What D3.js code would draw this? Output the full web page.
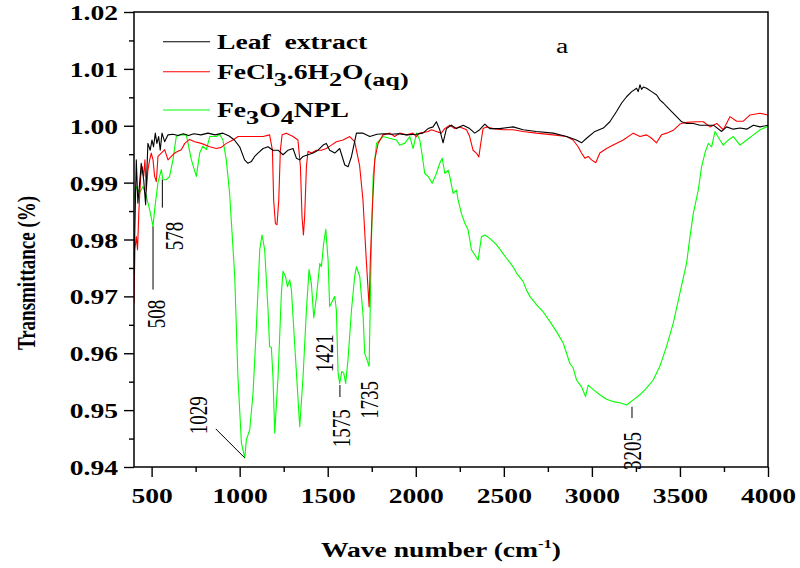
<!DOCTYPE html>
<html><head><meta charset="utf-8">
<script src="https://cdn.jsdelivr.net/npm/d3@7/dist/d3.min.js"></script>
<style>
html,body{margin:0;padding:0;background:#fff;}
text{font-family:"Liberation Serif","Times New Roman",serif;}
</style></head>
<body>
<svg id="chart" width="800" height="568"></svg>
<script>
// ---------------- DATA ----------------
const leafWn = [400,405,413,422,432,441,455,466,479,492,502,511,521,530,540,549,559,574,593,621,650,680,710,740,780,820,860,905,940,970,1000,1028,1047,1066,1085,1104,1133,1161,1189,1218,1246,1275,1303,1322,1341,1360,1388,1417,1445,1474,1492,1511,1540,1568,1597,1616,1635,1663,1701,1739,1780,1820,1860,1900,1950,2000,2040,2070,2098,2117,2136,2155,2174,2202,2231,2269,2306,2335,2363,2392,2420,2477,2553,2609,2685,2780,2856,2912,2941,2970,3017,3065,3102,3140,3169,3197,3226,3254,3263,3273,3282,3292,3311,3339,3368,3387,3406,3424,3453,3481,3510,3538,3576,3614,3652,3690,3737,3765,3803,3841,3879,3917,3955,4000];
const leafT = [0.9740,0.9823,0.9940,0.9864,0.9899,0.9934,0.9905,0.9861,0.9969,0.9957,0.9975,0.9963,0.9987,0.9969,0.9981,0.9957,0.9987,0.9972,0.9984,0.9985,0.9983,0.9986,0.9983,0.9986,0.9984,0.9987,0.9984,0.9987,0.9982,0.9975,0.9963,0.9940,0.9934,0.9937,0.9946,0.9952,0.9960,0.9963,0.9957,0.9957,0.9949,0.9957,0.9960,0.9943,0.9940,0.9946,0.9949,0.9952,0.9957,0.9966,0.9969,0.9957,0.9952,0.9960,0.9931,0.9928,0.9946,0.9987,0.9987,0.9981,0.9985,0.9986,0.9985,0.9986,0.9984,0.9985,0.9987,0.9995,0.9998,1.0007,0.9993,0.9970,0.9995,1.0001,0.9995,1.0001,0.9995,0.9987,0.9993,1.0003,0.9995,0.9995,0.9998,0.9993,0.9990,0.9987,0.9981,0.9975,0.9970,0.9978,0.9990,0.9996,1.0007,1.0025,1.0040,1.0051,1.0060,1.0066,1.0060,1.0072,1.0064,1.0068,1.0066,1.0060,1.0054,1.0045,1.0040,1.0034,1.0025,1.0016,1.0007,1.0004,1.0004,1.0001,1.0001,1.0001,0.9990,0.9998,0.9994,0.9996,0.9994,1.0001,0.9998,1.0001];

const fecl3Wn = [400,405,413,420,428,438,447,455,462,470,479,489,498,508,517,527,536,555,574,593,612,631,650,669,688,716,744,782,830,867,896,924,962,991,1038,1133,1170,1186,1193,1203,1212,1222,1231,1241,1265,1303,1331,1345,1354,1362,1369,1379,1388,1407,1436,1464,1492,1521,1549,1587,1625,1653,1681,1700,1719,1735,1742,1753,1767,1786,1814,1852,1880,1909,1947,1984,2003,2022,2070,2089,2117,2145,2164,2193,2221,2250,2288,2306,2325,2344,2358,2369,2382,2401,2439,2496,2553,2609,2685,2780,2856,2893,2922,2941,2960,2979,2998,3022,3045,3083,3121,3178,3235,3273,3311,3339,3367,3395,3424,3462,3500,3538,3594,3633,3671,3709,3746,3784,3822,3860,3898,3955,4000];
const fecl3T = [0.9688,0.9782,0.9805,0.9782,0.9852,0.9911,0.9928,0.9911,0.9940,0.9887,0.9922,0.9940,0.9952,0.9940,0.9911,0.9902,0.9946,0.9952,0.9958,0.9940,0.9946,0.9952,0.9955,0.9958,0.9969,0.9976,0.9972,0.9969,0.9963,0.9960,0.9962,0.9969,0.9975,0.9981,0.9981,0.9981,0.9984,0.9957,0.9869,0.9828,0.9826,0.9869,0.9957,0.9984,0.9987,0.9981,0.9975,0.9928,0.9840,0.9808,0.9840,0.9928,0.9955,0.9952,0.9957,0.9957,0.9960,0.9966,0.9972,0.9975,0.9981,0.9972,0.9930,0.9870,0.9764,0.9682,0.9764,0.9852,0.9940,0.9969,0.9984,0.9987,0.9981,0.9987,0.9984,0.9987,0.9981,0.9987,0.9990,0.9993,0.9990,0.9987,0.9995,1.0001,0.9995,0.9998,0.9993,0.9981,0.9957,0.9952,0.9945,0.9969,0.9995,0.9998,0.9995,0.9993,0.9993,0.9990,0.9987,0.9984,0.9981,0.9975,0.9963,0.9952,0.9943,0.9946,0.9940,0.9935,0.9952,0.9960,0.9966,0.9975,0.9987,0.9981,0.9984,0.9978,0.9970,0.9984,0.9987,0.9992,1.0003,1.0006,1.0007,1.0007,0.9998,1.0004,0.9993,1.0016,1.0008,1.0008,1.0019,1.0022,1.0019];

const npWn = [400,413,432,451,470,489,508,517,536,555,564,583,602,621,640,659,697,726,754,773,791,811,830,868,886,905,924,943,972,990,1010,1029,1038,1057,1076,1095,1114,1127,1142,1161,1170,1180,1189,1199,1218,1237,1246,1260,1271,1284,1294,1312,1341,1360,1379,1394,1407,1421,1436,1455,1464,1477,1489,1502,1511,1530,1540,1549,1559,1568,1580,1591,1602,1615,1635,1653,1663,1682,1701,1710,1720,1735,1748,1758,1777,1814,1850,1890,1909,1937,1966,1985,2004,2023,2032,2051,2070,2093,2117,2136,2150,2165,2184,2193,2212,2231,2240,2259,2278,2297,2316,2354,2373,2392,2420,2458,2515,2553,2572,2610,2629,2648,2686,2723,2761,2799,2837,2856,2875,2894,2913,2941,2964,2979,3008,3045,3083,3121,3159,3197,3235,3273,3311,3348,3386,3424,3462,3500,3538,3557,3576,3604,3623,3642,3661,3680,3699,3727,3746,3775,3803,3841,3879,3917,3955,4000];
const npT = [0.9870,0.9893,0.9882,0.9893,0.9876,0.9852,0.9823,0.9852,0.9900,0.9923,0.9905,0.9905,0.9911,0.9940,0.9981,0.9984,0.9984,0.9940,0.9911,0.9952,0.9964,0.9958,0.9981,0.9981,0.9985,0.9975,0.9940,0.9881,0.9735,0.9559,0.9442,0.9416,0.9448,0.9465,0.9530,0.9647,0.9782,0.9808,0.9782,0.9676,0.9612,0.9610,0.9559,0.9460,0.9559,0.9706,0.9744,0.9735,0.9717,0.9729,0.9711,0.9618,0.9471,0.9559,0.9676,0.9747,0.9723,0.9662,0.9700,0.9758,0.9752,0.9793,0.9818,0.9764,0.9682,0.9694,0.9700,0.9676,0.9565,0.9547,0.9568,0.9565,0.9547,0.9588,0.9676,0.9735,0.9752,0.9735,0.9665,0.9600,0.9591,0.9577,0.9793,0.9911,0.9969,0.9981,0.9978,0.9975,0.9966,0.9969,0.9981,0.9960,0.9987,0.9975,0.9957,0.9916,0.9911,0.9899,0.9916,0.9934,0.9943,0.9916,0.9922,0.9911,0.9881,0.9887,0.9870,0.9846,0.9829,0.9817,0.9782,0.9764,0.9805,0.9808,0.9802,0.9791,0.9767,0.9752,0.9741,0.9726,0.9711,0.9700,0.9685,0.9673,0.9656,0.9638,0.9618,0.9600,0.9582,0.9574,0.9553,0.9541,0.9524,0.9544,0.9536,0.9527,0.9519,0.9515,0.9513,0.9509,0.9518,0.9527,0.9539,0.9553,0.9577,0.9612,0.9653,0.9706,0.9759,0.9805,0.9846,0.9887,0.9928,0.9952,0.9969,0.9963,0.9990,0.9975,0.9966,0.9975,0.9981,0.9966,0.9975,0.9984,0.9993,0.9999];

const seriesNames = ["Leaf  extract", "FeCl3.6H2O(aq)", "Fe3O4NPL"];
const xMajorTicks = [500,1000,1500,2000,2500,3000,3500,4000];
const xMinorTicks = [750,1250,1750,2250,2750,3250,3750];
const yMajorTicks = [0.94,0.95,0.96,0.97,0.98,0.99,1.00,1.01,1.02];
const yMinorTicks = [0.945,0.955,0.965,0.975,0.985,0.995,1.005,1.015];
const peakLabels = [508,578,1029,1421,1575,1735,3205];

// ---------------- CHART ----------------
const SX = 1.38; // horizontal stretch of the original image's text
const svg = d3.select("#chart");
const x = d3.scaleLinear().domain([400,4000]).range([134,768]);
const y = d3.scaleLinear().domain([0.94,1.02]).range([467,12]);

const series = [
  {name: seriesNames[0], wn: leafWn, t: leafT, color: "#000000"},
  {name: seriesNames[1], wn: fecl3Wn, t: fecl3T, color: "#ff0000"},
  {name: seriesNames[2], wn: npWn, t: npT, color: "#00ff00"}
];

svg.append("clipPath").attr("id","clip").append("rect")
  .attr("x",134).attr("y",12).attr("width",634).attr("height",455);

const line = d3.line().x(d => x(d[0])).y(d => y(d[1]));
const plot = svg.append("g").attr("clip-path","url(#clip)");
[2,1,0].forEach(i => {
  const s = series[i];
  plot.append("path")
    .datum(s.wn.map((w,k) => [w, s.t[k]]))
    .attr("d", line)
    .attr("fill","none")
    .attr("stroke", s.color)
    .attr("stroke-width", 1.1)
    .attr("stroke-linejoin","round");
});

// frame
svg.append("rect").attr("x",x(400)).attr("y",y(1.02))
  .attr("width", x(4000)-x(400)).attr("height", y(0.94)-y(1.02))
  .attr("fill","none").attr("stroke","#000").attr("stroke-width",1.5);

// axes
const gx = svg.append("g").attr("transform",`translate(0,${y(0.94)})`);
gx.call(d3.axisBottom(x).tickValues(xMajorTicks).tickSize(10).tickFormat(d3.format("d")));
const gxm = svg.append("g").attr("transform",`translate(0,${y(0.94)})`);
gxm.call(d3.axisBottom(x).tickValues(xMinorTicks).tickSize(5).tickFormat(""));
const gy = svg.append("g").attr("transform",`translate(${x(400)},0)`);
gy.call(d3.axisLeft(y).tickValues(yMajorTicks).tickSize(10).tickFormat(d3.format(".2f")));
const gym = svg.append("g").attr("transform",`translate(${x(400)},0)`);
gym.call(d3.axisLeft(y).tickValues(yMinorTicks).tickSize(5).tickFormat(""));
[gx,gxm,gy,gym].forEach(g => {
  g.select(".domain").remove();
  g.selectAll("line").attr("stroke","#000").attr("stroke-width",1.4);
});
gx.selectAll("text")
  .attr("y", 22).attr("dy","0.71em")
  .attr("transform", `scale(${SX},1)`)
  .style("font-family",'"Liberation Serif","Times New Roman",serif')
  .style("font-weight","bold").style("font-size","20px").attr("fill","#000");
gy.selectAll("text")
  .attr("x", -16/SX).attr("dy","0.38em")
  .attr("transform", `scale(${SX},1)`)
  .style("font-family",'"Liberation Serif","Times New Roman",serif')
  .style("font-weight","bold").style("font-size","20px").attr("fill","#000");

// axis titles
const xt = svg.append("text")
  .attr("transform", `translate(441,557) scale(${SX},1)`)
  .attr("text-anchor","middle")
  .style("font-weight","bold").style("font-size","20px");
xt.append("tspan").text("Wave number (cm");
xt.append("tspan").attr("dy",-9).style("font-size","12px").text("-1");
xt.append("tspan").attr("dy",9).text(")");

svg.append("text")
  .attr("transform", `translate(35,273) scale(${SX},1) rotate(-90)`)
  .attr("text-anchor","middle")
  .style("font-weight","bold").style("font-size","19px")
  .text("Transmittance (%)");

// "a" label
svg.append("text").attr("transform",`translate(562,53) scale(${SX},1)`)
  .attr("text-anchor","middle").style("font-size","20px").text("a");

// legend
const legendParts = [
  [["Leaf  extract",0]],
  [["FeCl",0],["3",1],[".6H",0],["2",1],["O",0],["(aq)",1]],
  [["Fe",0],["3",1],["O",0],["4",1],["NPL",0]]
];
const legendY = [41.7, 71.7, 110];
series.forEach((s,i) => {
  svg.append("line").attr("x1",163).attr("x2",210)
    .attr("y1",legendY[i]).attr("y2",legendY[i])
    .attr("stroke", s.color).attr("stroke-width",1.1);
  const t = svg.append("text")
    .attr("transform",`translate(217,${legendY[i]+6.8}) scale(${SX},1)`)
    .style("font-weight","bold").style("font-size","20px")
    .style("white-space","pre").attr("xml:space","preserve");
  let sub = 0;
  legendParts[i].forEach(([txt,isSub]) => {
    const ts = t.append("tspan").text(txt);
    const dy = (isSub ? 7 : 0) - sub;
    if (dy !== 0) ts.attr("dy", dy);
    if (isSub) ts.style("font-size","19px");
    sub = isSub ? 7 : 0;
  });
});

// peak annotations
const ann = svg.append("g");
function vlabel(txt, px, py) {
  ann.append("text")
    .attr("transform", `translate(${px},${py}) scale(${SX},1) rotate(-90)`)
    .attr("text-anchor","middle").style("font-size","19px").text(txt);
}
function seg(x1,y1,x2,y2) {
  ann.append("line").attr("x1",x1).attr("y1",y1).attr("x2",x2).attr("y2",y2)
    .attr("stroke","#000").attr("stroke-width",1);
}
// 508
seg(x(peakLabels[0]), y(0.9823), x(peakLabels[0]), y(0.9712));
vlabel(String(peakLabels[0]), x(peakLabels[0]) + 12, y(0.9669));
// 578
seg(x(peakLabels[1]) - 3, y(0.9905), x(peakLabels[1]) - 3, y(0.9856));
vlabel(String(peakLabels[1]), x(peakLabels[1]) + 17.7, y(0.9806));
// 1029
seg(x(peakLabels[2]) - 29, y(0.9416) - 29, x(peakLabels[2]), y(0.9416));
vlabel(String(peakLabels[2]), x(peakLabels[2]) - 38, y(0.9491));
// 1421
vlabel(String(peakLabels[3]), x(peakLabels[3]) + 19, y(0.9600));
// 1575
seg(x(peakLabels[4]) - 1, y(0.9544), x(peakLabels[4]) - 1, y(0.9523));
vlabel(String(peakLabels[4]), x(peakLabels[4]) + 9, y(0.9468));
// 1735
vlabel(String(peakLabels[5]), x(peakLabels[5]) + 8.7, y(0.9518));
// 3205
seg(x(peakLabels[6]) + 4, y(0.9506), x(peakLabels[6]) + 4, y(0.9486));
vlabel(String(peakLabels[6]), x(peakLabels[6]) + 13, y(0.9428));
</script>
</body></html>
